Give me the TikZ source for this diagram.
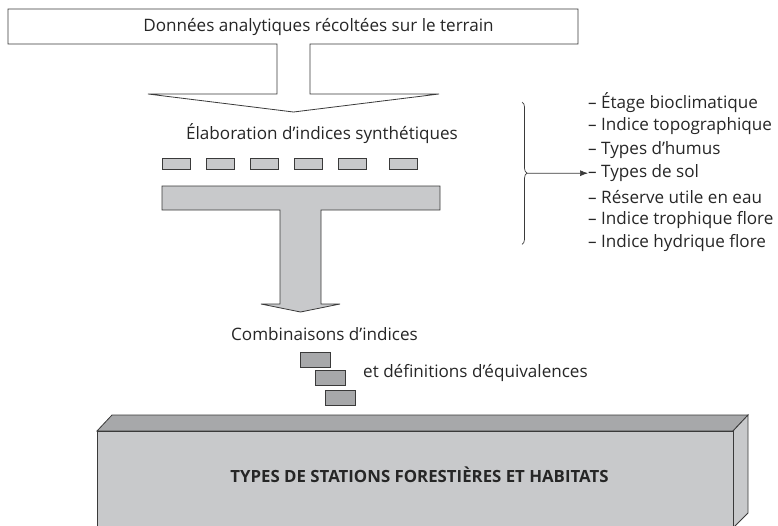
\documentclass[tikz,border=0pt]{standalone}
\usepackage{fontspec}
\setmainfont{Open Sans}
\usetikzlibrary{positioning, arrows, arrows.meta, calc, decorations.pathreplacing}
\definecolor{lightgrey}{HTML}{C8C9CB}
\definecolor{midgrey}{HTML}{A7A8AA}
\definecolor{edgegrey}{HTML}{3A3A3A}

\begin{document}
\begin{tikzpicture}[x=1pt,y=-1pt,
    every node/.style={font=\fontsize{17.1}{20}\selectfont, inner sep=0pt, text=black!85},
    outline/.style={draw=edgegrey, line width=0.8pt},
    tile/.style={outline, fill=lightgrey, minimum width=28pt, minimum height=11pt},
    stairtile/.style={outline, fill=midgrey, minimum width=30pt, minimum height=15pt},
    item/.style={anchor=west}]
    \useasboundingbox (0,0) rectangle (778,525);

    % top box and open arrow
    \draw[outline, fill=white] (8,9) -| (578,44) -- (310,44) |- (439,94) -- (293.5,112)
        -- (148,94) -| (277,44) -- (8,44) -- cycle;
    \node (data) at (318.5,27) {Données analytiques récoltées sur le terrain};
    \node (elab) at (322,134) {Élaboration d’indices synthétiques};

    \foreach \x [count=\i] in {176,220,264,308,352,403}
        \node[tile] (t\i) at (\x,163.5) {};

    % grey T arrow
    \draw[outline, fill=lightgrey] (162,186) -| (440,210) -- (321,210) |- (340,304)
        -- (300.5,312) -- (261,304) -| (280,210) -- (162,210) -- cycle;

    % list of indices
    \foreach \txt [count=\i] in {Étage bioclimatique, Indice topographique,
        Types d’humus, Types de sol, Réserve utile en eau,
        Indice trophique flore, Indice hydrique flore}
        \node[item] (i\i) at (588,{103+23.4*(\i-1)}) {– \txt};

    \draw[decorate, decoration={brace, amplitude=5pt}, edgegrey, line width=0.7pt]
        (522,102) -- (522,244.4);
    \coordinate (tip) at (527,173.2);
    \draw[-{Latex[length=8pt,width=6pt]}, edgegrey, line width=0.7pt] (tip) -- (i4.west);

    \node (comb) at (324.5,334) {Combinaisons d’indices};
    \node[stairtile] (s1) at (315,359.5) {};
    \node[stairtile] (s2) at (330,377.5) {};
    \node[stairtile] (s3) at (340.5,397.5) {};
    \node[anchor=west] (equiv) at (363,373) {et définitions d’équivalences};

    % 3d block
    \draw[outline, fill=midgrey] (97,431) -- (112,415) -- (748,415) -- (733,431) -- cycle;
    \draw[outline, fill=lightgrey] (733,431) -- (748,415) -- (748,513) -- (733,528) -- cycle;
    \draw[outline, fill=lightgrey] (97,431) rectangle (733,528);
    \node[font=\fontsize{16.8}{20}\selectfont\bfseries] (types) at (419.5,475)
        {TYPES DE STATIONS FORESTIÈRES ET HABITATS};
\end{tikzpicture}
\end{document}
